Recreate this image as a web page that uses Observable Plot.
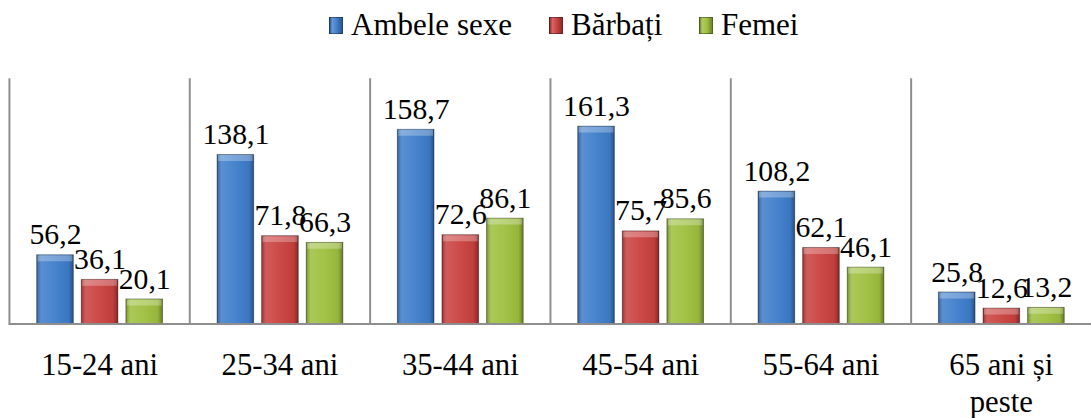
<!DOCTYPE html>
<html><head><meta charset="utf-8">
<script src="https://cdn.jsdelivr.net/npm/d3@7"></script>
<script src="https://cdn.jsdelivr.net/npm/@observablehq/plot@0.6"></script>
<style>
body{margin:0;background:#fff;font-family:"Liberation Serif","Times New Roman",Times,"Nimbus Roman","DejaVu Serif",serif;}
#wrap{position:relative;width:1091px;height:418px;overflow:hidden;background:#fff;}
#legend{position:absolute;left:0;top:0;width:1091px;height:56px;}
.item{position:absolute;top:7px;display:flex;align-items:center;font-size:31px;line-height:36px;color:#000;white-space:nowrap;}
.sw{width:14px;height:17px;margin-right:8px;box-sizing:border-box;border:1px solid rgba(0,0,0,0.35);}
#chart{position:absolute;top:56px;left:0;}
</style>
</head><body>
<svg width="0" height="0" style="position:absolute">
  <defs>
    <linearGradient id="shade" x1="0" x2="1" y1="0" y2="0">
      <stop offset="0" stop-color="#000" stop-opacity="0.28"/>
      <stop offset="0.13" stop-color="#fff" stop-opacity="0.14"/>
      <stop offset="0.5" stop-color="#fff" stop-opacity="0.05"/>
      <stop offset="0.87" stop-color="#000" stop-opacity="0.05"/>
      <stop offset="1" stop-color="#000" stop-opacity="0.35"/>
    </linearGradient>
  </defs>
</svg>
<div id="wrap">
  <div id="legend"></div>
  <div id="chart"></div>
</div>
<script>
const groups = ["15-24 ani", "25-34 ani", "35-44 ani", "45-54 ani", "55-64 ani", "65 ani și\npeste"];
const seriesNames = ["Ambele sexe", "Bărbați", "Femei"];
const seriesColors = ["#3e7dcb", "#c9403e", "#9dbf3e"];
const ambeleSexe = [56.2, 138.1, 158.7, 161.3, 108.2, 25.8];
const barbati = [36.1, 71.8, 72.6, 75.7, 62.1, 12.6];
const femei = [20.1, 66.3, 86.1, 85.6, 46.1, 13.2];

const seriesValues = [ambeleSexe, barbati, femei];
const data = [];
groups.forEach((g, i) => {
  seriesNames.forEach((s, j) => {
    data.push({group: g, series: s, value: seriesValues[j][i]});
  });
});
const fmt = v => v.toFixed(1).replace(".", ",");
const serif = "'Liberation Serif','Times New Roman',Times,'Nimbus Roman','DejaVu Serif',serif";

// legend
const legendLefts = [329, 549, 699];
const legend = document.getElementById("legend");
seriesNames.forEach((s, j) => {
  const it = document.createElement("div");
  it.className = "item";
  it.style.left = legendLefts[j] + "px";
  const sw = document.createElement("span");
  sw.className = "sw";
  sw.style.background = `linear-gradient(90deg, rgba(0,0,0,0.25), rgba(255,255,255,0.2) 20%, rgba(255,255,255,0) 60%, rgba(0,0,0,0.3)), ${seriesColors[j]}`;
  it.appendChild(sw);
  it.appendChild(document.createTextNode(s));
  legend.appendChild(it);
});

const chart = Plot.plot({
  width: 1101,
  height: 362,
  marginLeft: 9,
  marginRight: 0,
  marginTop: 23,
  marginBottom: 92,
  style: {fontFamily: serif, fontSize: "31px", color: "#000", background: "transparent", overflow: "visible"},
  fx: {domain: groups, padding: 0, label: null},
  x: {domain: seriesNames, paddingInner: 0.18, paddingOuter: 0.6, axis: null},
  y: {domain: [0, 200], axis: null},
  color: {domain: seriesNames, range: seriesColors},
  marks: [
    Plot.frame({anchor: "left", stroke: "#8e8e8e", strokeWidth: 2}),
    Plot.barY(data, {fx: "group", x: "series", y: "value", fill: "series"}),
    Plot.barY(data, {fx: "group", x: "series", y: "value", fill: "url(#shade)", stroke: "rgba(0,0,0,0.35)", strokeWidth: 1}),
    Plot.tickY(data, {fx: "group", x: "series", y: "value", dy: 3, stroke: "#fff", strokeOpacity: 0.28, strokeWidth: 6, inset: 1}),
    Plot.ruleY([0], {stroke: "#8e8e8e", strokeWidth: 2}),
    Plot.text(data, {fx: "group", x: "series", y: "value", text: d => fmt(d.value), lineAnchor: "bottom", dy: -11, fontSize: 30, fill: "#000", fontFamily: serif}),
    Plot.axisFx({anchor: "bottom", tickSize: 0, tickPadding: 25, fontSize: 31, lineHeight: 1.2, label: null, fill: "#000", fontFamily: serif})
  ]
});
document.getElementById("chart").appendChild(chart);
</script>
</body></html>
